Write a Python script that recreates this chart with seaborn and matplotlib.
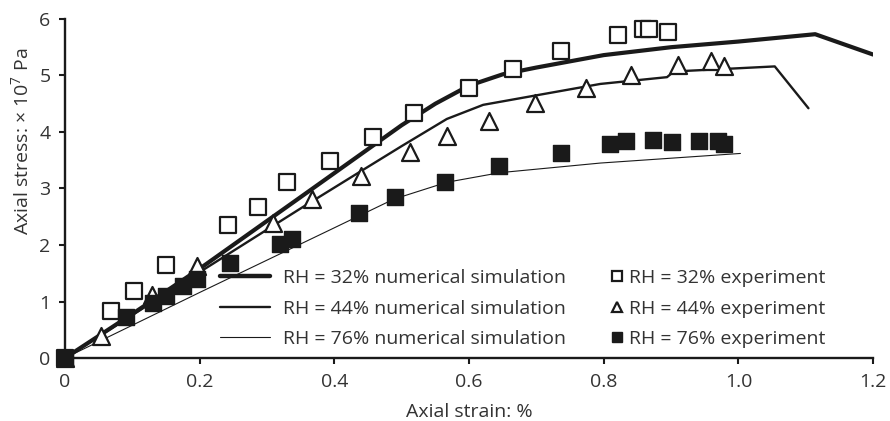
import numpy as np
import pandas as pd
import matplotlib
matplotlib.use("Agg")
import matplotlib.pyplot as plt
import seaborn as sns
from matplotlib.lines import Line2D
from matplotlib.ticker import FixedLocator, FuncFormatter

sns.set_theme(style="white")
plt.rcParams["font.family"] = ["Open Sans", "DejaVu Sans"]
plt.rcParams["mathtext.default"] = "regular"

# Numerical simulation curves (axial strain %, axial stress x1e7 Pa)
sim32_x = [0.0, 0.10, 0.20, 0.349, 0.50, 0.55, 0.60, 0.65, 0.70, 0.80, 0.90, 1.00, 1.114, 1.20]
sim32_y = [0.0, 0.78, 1.58, 2.84, 4.12, 4.50, 4.82, 5.02, 5.14, 5.36, 5.50, 5.60, 5.73, 5.37]

sim44_x = [0.0, 0.20, 0.349, 0.44, 0.50, 0.567, 0.621, 0.696, 0.795, 0.894, 0.904, 1.054, 1.104]
sim44_y = [0.0, 1.52, 2.64, 3.31, 3.75, 4.23, 4.48, 4.64, 4.85, 4.97, 5.07, 5.16, 4.42]

sim76_x = [0.0, 0.20, 0.394, 0.488, 0.567, 0.646, 0.795, 1.003]
sim76_y = [0.0, 1.16, 2.27, 2.81, 3.11, 3.28, 3.45, 3.62]

# Experimental measurements
exp32_x = [0.0, 0.068, 0.103, 0.150, 0.242, 0.287, 0.330, 0.394, 0.457, 0.519, 0.600,
           0.666, 0.737, 0.821, 0.859, 0.867, 0.896]
exp32_y = [0.0, 0.83, 1.18, 1.65, 2.36, 2.68, 3.11, 3.48, 3.91, 4.33, 4.77,
           5.12, 5.44, 5.72, 5.83, 5.83, 5.77]

exp44_x = [0.0, 0.054, 0.129, 0.196, 0.309, 0.367, 0.440, 0.512, 0.568, 0.629, 0.698,
           0.774, 0.841, 0.910, 0.960, 0.978]
exp44_y = [0.0, 0.39, 1.12, 1.62, 2.39, 2.81, 3.22, 3.64, 3.92, 4.20, 4.52,
           4.77, 5.00, 5.18, 5.25, 5.16]

exp76_x = [0.0, 0.091, 0.131, 0.150, 0.176, 0.196, 0.245, 0.319, 0.337, 0.437, 0.490,
           0.565, 0.644, 0.737, 0.809, 0.833, 0.873, 0.902, 0.942, 0.970, 0.978]
exp76_y = [0.0, 0.72, 0.98, 1.10, 1.27, 1.39, 1.68, 2.01, 2.10, 2.57, 2.85,
           3.11, 3.40, 3.62, 3.78, 3.84, 3.86, 3.82, 3.84, 3.84, 3.78]

x_ticks = [0.0, 0.2, 0.4, 0.6, 0.8, 1.0, 1.2]
y_ticks = [0, 1, 2, 3, 4, 5, 6]

sim_labels = ["RH = 32% numerical simulation",
              "RH = 44% numerical simulation",
              "RH = 76% numerical simulation"]
exp_labels = ["RH = 32% experiment",
              "RH = 44% experiment",
              "RH = 76% experiment"]

INK = "#1a1a1a"
TEXT = "#333333"
FS = 14

fig = plt.figure(figsize=(8.9, 4.21), dpi=100)
ax = fig.add_axes([0.073, 0.1496, 0.908, 0.8054])

sim_widths = [3.0, 1.7, 0.8]
for xs, ys, lw in zip([sim32_x, sim44_x, sim76_x], [sim32_y, sim44_y, sim76_y], sim_widths):
    df = pd.DataFrame({"strain": xs, "stress": ys})
    sns.lineplot(data=df, x="strain", y="stress", ax=ax, color=INK,
                 linewidth=lw, sort=False, estimator=None, legend=False, zorder=2)

exp_styles = [
    dict(marker="s", facecolor="white", edgecolor=INK, s=140, linewidth=1.6),
    dict(marker="^", facecolor="white", edgecolor=INK, s=150, linewidth=1.6),
    dict(marker="s", facecolor=INK, edgecolor=INK, s=140, linewidth=1.0),
]
for xs, ys, st in zip([exp32_x, exp44_x, exp76_x], [exp32_y, exp44_y, exp76_y], exp_styles):
    df = pd.DataFrame({"strain": xs, "stress": ys})
    sns.scatterplot(data=df, x="strain", y="stress", ax=ax, marker=st["marker"],
                    s=st["s"], facecolor=st["facecolor"], edgecolor=st["edgecolor"],
                    linewidth=st["linewidth"], legend=False, zorder=3, clip_on=False)

ax.set_xlim(0, 1.2)
ax.set_ylim(0, 6)
ax.xaxis.set_major_locator(FixedLocator(x_ticks))
ax.yaxis.set_major_locator(FixedLocator(y_ticks))
ax.xaxis.set_major_formatter(FuncFormatter(lambda v, p: "0" if v == 0 else f"{v:.1f}"))
ax.yaxis.set_major_formatter(FuncFormatter(lambda v, p: f"{int(round(v))}"))

for side in ["top", "right"]:
    ax.spines[side].set_visible(False)
for side in ["left", "bottom"]:
    ax.spines[side].set_color(INK)
    ax.spines[side].set_linewidth(1.7)

ax.tick_params(axis="x", direction="out", length=4, width=1.5, color=INK,
               labelsize=FS, labelcolor=TEXT, pad=6.5, bottom=True)
ax.tick_params(axis="y", direction="out", length=4, width=1.5, color=INK,
               labelsize=FS, labelcolor=TEXT, pad=6.5, left=True)

ax.set_xlabel("Axial strain: %", fontsize=FS, color=TEXT, labelpad=9)
ax.set_ylabel("Axial stress: × 10$^{7}$ Pa", fontsize=FS, color=TEXT, labelpad=5)
# the stress label sits in the upper part of the axis rather than centred
ax.yaxis.label.set_y(0.64)

sim_handles = [
    Line2D([], [], color=INK, lw=3.2),
    Line2D([], [], color=INK, lw=1.7),
    Line2D([], [], color=INK, lw=0.8),
]
exp_handles = [
    Line2D([], [], ls="none", marker="s", mfc="white", mec=INK, ms=6.5, mew=1.6),
    Line2D([], [], ls="none", marker="^", mfc="white", mec=INK, ms=6.5, mew=1.6),
    Line2D([], [], ls="none", marker="s", mfc=INK, mec=INK, ms=6.5, mew=1.0),
]
leg_kw = dict(frameon=False, loc="upper left", bbox_transform=fig.transFigure,
              fontsize=FS, labelspacing=0.65, borderpad=0.0, borderaxespad=0.0)
leg1 = ax.legend(sim_handles, sim_labels, bbox_to_anchor=(220 / 890, 1 - 269 / 421),
                 handlelength=2.58, handletextpad=0.67, **leg_kw)
for t in leg1.get_texts():
    t.set_color(TEXT)
ax.add_artist(leg1)
leg2 = ax.legend(exp_handles, exp_labels, bbox_to_anchor=(611 / 890, 1 - 269 / 421),
                 handlelength=0.6, handletextpad=0.32, **leg_kw)
for t in leg2.get_texts():
    t.set_color(TEXT)

fig.savefig("out.png", dpi=100)
